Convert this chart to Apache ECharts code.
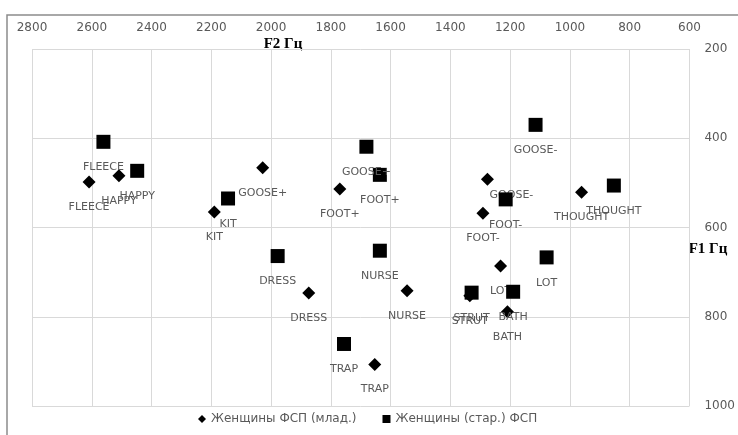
<!DOCTYPE html>
<html>
<head>
<meta charset="utf-8">
<script src="https://cdn.jsdelivr.net/npm/echarts@6/dist/echarts.min.js"></script>
<style>
html,body{margin:0;padding:0;background:#fff;}
#chart{width:738px;height:435px;}
</style>
</head>
<body>
<div id="chart"></div>
<script>
// Vowel names
const youngNames = ['FLEECE','HAPPY','KIT','GOOSE+','FOOT+','GOOSE-','FOOT-','THOUGHT','DRESS','TRAP','NURSE','LOT','BATH','STRUT'];
const youngF2 = [2609, 2509, 2190, 2028, 1770, 1276, 1291, 961, 1874, 1653, 1545, 1232, 1209, 1335];
const youngF1 = [498, 484, 565, 466, 514, 492, 568, 521, 747, 907, 742, 686, 789, 753];

const oldNames = ['FLEECE','HAPPY','KIT','GOOSE+','FOOT+','GOOSE-','FOOT-','THOUGHT','DRESS','NURSE','LOT','TRAP','STRUT','BATH'];
const oldF2 = [2561, 2448, 2144, 1681, 1636, 1115, 1215, 853, 1978, 1636, 1078, 1756, 1329, 1190];
const oldF1 = [408, 473, 535, 419, 482, 370, 537, 506, 664, 652, 667, 861, 746, 744];

const seriesNames = ['Женщины ФСП (млад.)', 'Женщины (стар.) ФСП'];
const xTicks = {min: 600, max: 2800, interval: 200};
const yTicks = {min: 200, max: 1000, interval: 200};

// label adjustments (style only)
const youngLabelShift = {'GOOSE-': [24, -9]};

function build(names, f2, f1, shifts) {
  return names.map((n, i) => {
    const item = {name: n, value: [f2[i], f1[i]]};
    if (shifts && shifts[n]) item.label = {offset: shifts[n]};
    return item;
  });
}

const gray = '#595959';
const chart = echarts.init(document.getElementById('chart'), null, {renderer: 'canvas'});
const labelCommon = {
  show: true, position: 'bottom', distance: 13,
  formatter: '{b}', color: gray, fontFamily: 'DejaVu Sans', fontSize: 11
};
const plain = v => String(v);
chart.setOption({
  animation: false,
  backgroundColor: '#fff',
  grid: {left: 32, top: 49, right: 48, bottom: 29, containLabel: false},
  xAxis: {
    type: 'value', position: 'top', inverse: true,
    min: xTicks.min, max: xTicks.max, interval: xTicks.interval,
    axisLine: {show: false}, axisTick: {show: false},
    splitLine: {show: true, lineStyle: {color: '#d9d9d9', width: 1}},
    axisLabel: {margin: 15, color: gray, fontFamily: 'DejaVu Sans', fontSize: 12, formatter: plain}
  },
  yAxis: {
    type: 'value', position: 'right', inverse: true,
    min: yTicks.min, max: yTicks.max, interval: yTicks.interval,
    axisLine: {show: false}, axisTick: {show: false},
    splitLine: {show: true, lineStyle: {color: '#d9d9d9', width: 1}},
    axisLabel: {margin: 15, color: gray, fontFamily: 'DejaVu Sans', fontSize: 12, formatter: plain}
  },
  legend: {
    left: 193, top: 408, itemGap: 26, itemWidth: 8, itemHeight: 8,
    textStyle: {color: gray, fontFamily: 'DejaVu Sans', fontSize: 12},
    data: [{name: seriesNames[0], icon: 'diamond'}, {name: seriesNames[1], icon: 'rect'}]
  },
  series: [
    {
      name: seriesNames[0], type: 'scatter', symbol: 'diamond', symbolSize: 13, z: 2,
      itemStyle: {color: '#000', opacity: 1},
      label: labelCommon,
      data: build(youngNames, youngF2, youngF1, youngLabelShift)
    },
    {
      name: seriesNames[1], type: 'scatter', symbol: 'rect', symbolSize: 14, z: 3,
      itemStyle: {color: '#000', opacity: 1},
      label: labelCommon,
      data: build(oldNames, oldF2, oldF1, null)
    }
  ],
  graphic: [
    {type: 'rect', shape: {x: 7, y: 15, width: 800, height: 500},
     style: {fill: 'none', stroke: '#8c8c8c', lineWidth: 1.5}, silent: true},
    {type: 'text', x: 283, y: 44,
     style: {text: 'F2 Гц', font: 'bold 15px "Liberation Serif"', fill: '#000', align: 'center', verticalAlign: 'middle'}},
    {type: 'text', x: 708, y: 249,
     style: {text: 'F1 Гц', font: 'bold 15px "Liberation Serif"', fill: '#000', align: 'center', verticalAlign: 'middle'}}
  ]
});
</script>
</body>
</html>
